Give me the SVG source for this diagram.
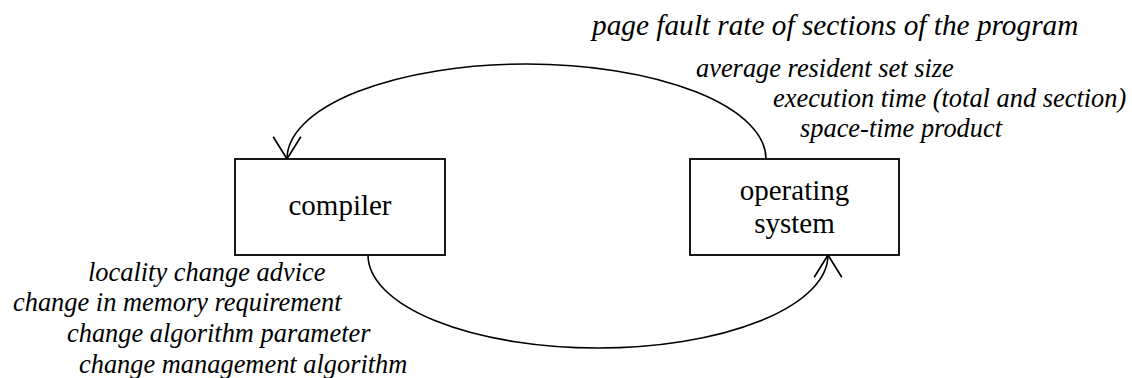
<svg xmlns="http://www.w3.org/2000/svg" width="1132" height="378" viewBox="0 0 1132 378">
  <style>
    .box { fill: #fff; stroke: #000; stroke-width: 1.8; }
    .node-label { font-family: "Liberation Serif", "Times New Roman", serif; font-size: 29px; fill: #000; text-anchor: middle; }
    .note { font-family: "Liberation Serif", "Times New Roman", serif; font-style: italic; font-size: 26.4px; fill: #000; }
    .note-big { font-size: 29.3px; }
    .flow { fill: none; stroke: #000; stroke-width: 1.6; }
  </style>
  <defs>
    <marker id="open-arrow" markerUnits="userSpaceOnUse" markerWidth="30" markerHeight="34" viewBox="-24 -16 28 32" refX="0" refY="0" orient="auto">
      <path d="M-21,-13 L0,0 L-21,13" fill="none" stroke="#000" stroke-width="1.6"/>
    </marker>
  </defs>
  <rect width="1132" height="378" fill="#fff"/>

  <!-- feedback loop between the two components -->
  <g id="connectors">
    <path class="flow" d="M766,159 A239.5,95 0 0 0 287,159" marker-end="url(#open-arrow)"/>
    <path class="flow" d="M368,255 A230,93 0 0 0 828,255" marker-end="url(#open-arrow)"/>
  </g>

  <g id="compiler">
    <rect class="box" x="235" y="159" width="210" height="96"/>
    <text class="node-label" x="340" y="215">compiler</text>
  </g>

  <g id="operating-system">
    <rect class="box" x="690" y="159" width="209" height="96"/>
    <text class="node-label" x="794.5" y="200">operating</text>
    <text class="node-label" x="794.5" y="233">system</text>
  </g>

  <!-- measurements reported back to the compiler -->
  <g id="os-feedback-labels">
    <text class="note note-big" x="592" y="35">page fault rate of sections of the program</text>
    <text class="note" x="696" y="77">average resident set size</text>
    <text class="note" x="773" y="107">execution time (total and section)</text>
    <text class="note" x="800" y="137">space-time product</text>
  </g>

  <!-- advice passed from the compiler to the operating system -->
  <g id="compiler-advice-labels">
    <text class="note" x="88" y="281">locality change advice</text>
    <text class="note" x="13" y="311">change in memory requirement</text>
    <text class="note" x="67" y="342">change algorithm parameter</text>
    <text class="note" x="79" y="373">change management algorithm</text>
  </g>
</svg>
